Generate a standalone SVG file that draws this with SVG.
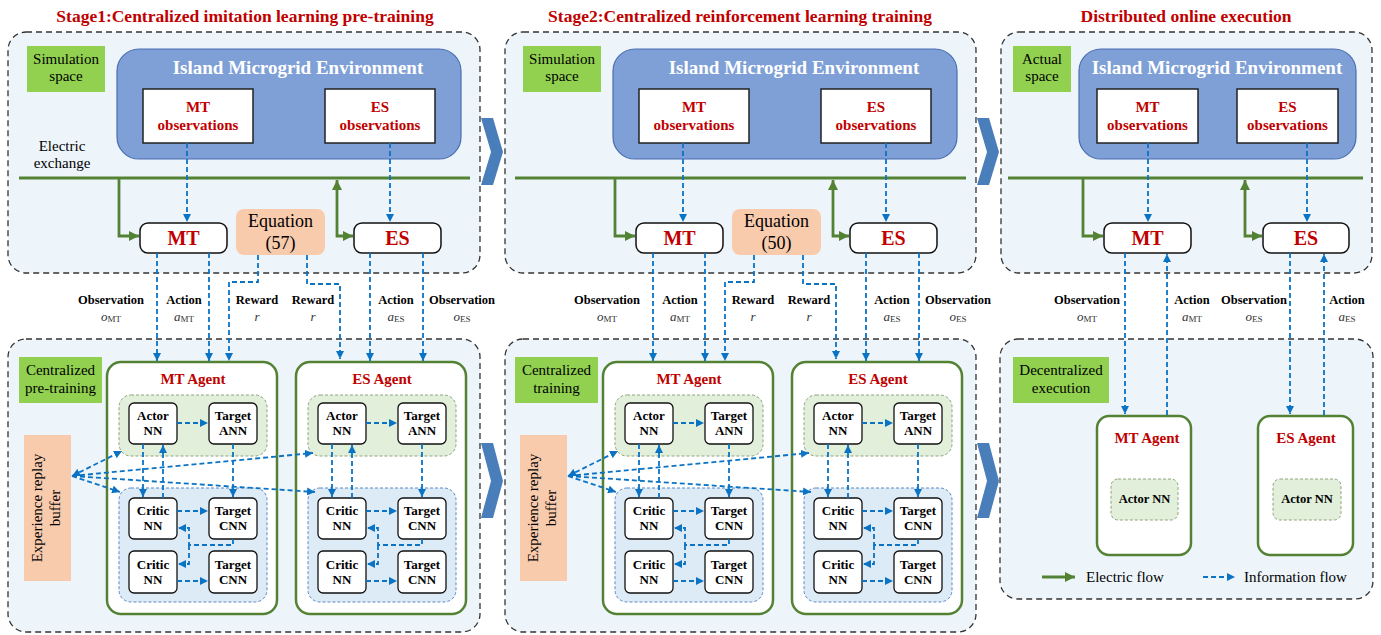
<svg xmlns="http://www.w3.org/2000/svg" width="1381" height="635" viewBox="0 0 1381 635">
  <style>
    text { font-family: "Liberation Serif", "Times New Roman", serif; fill: #000; }
    .title { font-size: 17.5px; font-weight: bold; fill: #C00000; text-anchor: middle; }
    .panel { fill: #EEF5FA; stroke: #333; stroke-width: 1.3; stroke-dasharray: 6 4; }
    .tag { fill: #92D050; }
    .tagt { font-size: 15px; text-anchor: middle; }
    .env { fill: #7F9FD7; stroke: #4A6EB0; stroke-width: 1.2; }
    .envt { font-size: 19px; font-weight: bold; fill: #fff; text-anchor: middle; }
    .obs { fill: #fff; stroke: #222; stroke-width: 1.5; }
    .obst { font-size: 15px; font-weight: bold; fill: #C00000; text-anchor: middle; }
    .dev { fill: #fff; stroke: #111; stroke-width: 1.5; }
    .devt { font-size: 20px; font-weight: bold; fill: #C00000; text-anchor: middle; }
    .peach { fill: #F8CBAD; }
    .eqt { font-size: 18px; text-anchor: middle; }
    .agent { fill: #fff; stroke: #548235; stroke-width: 2.5; }
    .agt { font-size: 15px; font-weight: bold; fill: #C00000; text-anchor: middle; }
    .ag { fill: #E2EFDA; stroke: #8FA57F; stroke-width: 1; stroke-dasharray: 3 2; }
    .cg { fill: #DDEBF7; stroke: #5B8AC6; stroke-width: 1; stroke-dasharray: 3 2; }
    .nn { fill: #fff; stroke: #111; stroke-width: 1.3; }
    .nnt { font-size: 13px; font-weight: bold; text-anchor: middle; }
    .nnt1 { font-size: 12.5px; font-weight: bold; text-anchor: middle; }
    .lab { font-size: 12.5px; font-weight: bold; text-anchor: middle; }
    .sym { font-size: 13px; text-anchor: middle; fill: #333; }
    .sub { font-size: 9px; font-style: normal; }
    .info { fill: none; stroke: #0A73C4; stroke-width: 1.8; stroke-dasharray: 5 3; marker-end: url(#ia); }
    .elec { fill: none; stroke: #548235; stroke-width: 2.8; }
    .bus { stroke: #548235; stroke-width: 3; }
    .chev { fill: #4A7EBB; }
    .leg { font-size: 15px; }
  </style>
  <defs>
    <marker id="ia" viewBox="0 0 10 10" refX="10" refY="5" markerWidth="8" markerHeight="8" markerUnits="userSpaceOnUse" orient="auto-start-reverse">
      <path d="M0,0 L10,5 L0,10 z" fill="#0A73C4"/>
    </marker>
    <marker id="ea" viewBox="0 0 10 10" refX="10" refY="5" markerWidth="10" markerHeight="10" markerUnits="userSpaceOnUse" orient="auto-start-reverse">
      <path d="M0,0 L10,5 L0,10 z" fill="#548235"/>
    </marker>
  </defs>

  <!-- stage titles -->
  <text class="title" x="245" y="22">Stage1:Centralized imitation learning pre-training</text>
  <text class="title" x="740" y="22">Stage2:Centralized reinforcement learning training</text>
  <text class="title" x="1186" y="22">Distributed online execution</text>

  <!-- panels -->
  <g id="panels">
    <rect class="panel" x="8" y="32" width="472" height="241" rx="18"/>
    <rect class="panel" x="8" y="339" width="472" height="293" rx="18"/>
    <rect class="panel" x="505" y="32" width="471" height="241" rx="18"/>
    <rect class="panel" x="505" y="339" width="471" height="293" rx="18"/>
    <rect class="panel" x="1001" y="32" width="371" height="241" rx="18"/>
    <rect class="panel" x="1000" y="339" width="373" height="260" rx="18"/>
  </g>

  <!-- stage transition chevrons -->
  <g id="chevrons">
    <polygon class="chev" points="481,118 493,118 503,152 493,185 481,185 491,152"/>
    <polygon class="chev" points="481,443 493,443 503,481 493,518 481,518 491,481"/>
    <polygon class="chev" points="977,118 989,118 999,152 989,185 977,185 987,152"/>
    <polygon class="chev" points="977,443 989,443 999,481 989,518 977,518 987,481"/>
  </g>

  <!-- ===== Stage 1 ===== -->
  <g id="s1-sim-tag"><rect class="tag" x="27" y="46" width="78" height="46"/>
    <text class="tagt" x="66" y="64">Simulation</text><text class="tagt" x="66" y="81">space</text></g>
  <g id="s1-env"><rect class="env" x="117" y="49" width="344" height="110" rx="22"/>
    <text class="envt" x="298" y="74">Island Microgrid Environment</text></g>
  <g id="s1-mt-obs"><rect class="obs" x="143" y="89" width="110" height="54"/>
    <text class="obst" x="198" y="112">MT</text><text class="obst" x="198" y="130">observations</text></g>
  <g id="s1-es-obs"><rect class="obs" x="325" y="89" width="110" height="54"/>
    <text class="obst" x="380" y="112">ES</text><text class="obst" x="380" y="130">observations</text></g>
  <g id="s1-bus-label"><text class="tagt" x="62" y="151">Electric</text><text class="tagt" x="62" y="168">exchange</text></g>
  <g id="s1-mt"><rect class="dev" x="140" y="223" width="87" height="30" rx="8"/>
    <text class="devt" x="183.5" y="245">MT</text></g>
  <g id="s1-es"><rect class="dev" x="354" y="223" width="87" height="30" rx="8"/>
    <text class="devt" x="397.5" y="245">ES</text></g>
  <g id="s1-eq"><rect class="peach" x="236" y="209" width="89" height="46" rx="8"/>
    <text class="eqt" x="280.5" y="227">Equation</text><text class="eqt" x="280.5" y="249">(57)</text></g>
  <g id="s1-train-tag"><rect class="tag" x="19" y="357" width="83" height="46"/>
    <text class="tagt" x="60.5" y="375">Centralized</text><text class="tagt" x="60.5" y="393">pre-training</text></g>
  <g id="s1-buffer"><rect class="peach" x="24" y="435" width="47" height="146"/>
    <g transform="translate(47.5,508) rotate(-90)"><text class="tagt" x="0" y="-5.5">Experience replay</text><text class="tagt" x="0" y="12.5">buffer</text></g></g>

  <!-- MT agent (stage 1) -->
  <g id="s1-mt-agent" transform="translate(107,362)">
    <rect class="agent" x="0" y="0" width="170" height="252" rx="14"/>
    <text class="agt" x="86" y="22">MT Agent</text>
    <rect class="ag" x="12" y="33" width="148" height="61" rx="12"/>
    <rect class="cg" x="12" y="126" width="148" height="114" rx="12"/>
    <g id="s1-mt-actor"><rect class="nn" x="22" y="41" width="48" height="41" rx="5"/><text class="nnt" x="46" y="58">Actor</text><text class="nnt" x="46" y="73">NN</text></g>
    <g id="s1-mt-tann"><rect class="nn" x="102" y="41" width="48" height="41" rx="5"/><text class="nnt" x="126" y="58">Target</text><text class="nnt" x="126" y="73">ANN</text></g>
    <g id="s1-mt-critic1"><rect class="nn" x="22" y="136" width="48" height="41" rx="5"/><text class="nnt" x="46" y="153">Critic</text><text class="nnt" x="46" y="168">NN</text></g>
    <g id="s1-mt-tcnn1"><rect class="nn" x="102" y="136" width="48" height="41" rx="5"/><text class="nnt" x="126" y="153">Target</text><text class="nnt" x="126" y="168">CNN</text></g>
    <g id="s1-mt-critic2"><rect class="nn" x="22" y="189" width="48" height="42" rx="5"/><text class="nnt" x="46" y="207">Critic</text><text class="nnt" x="46" y="222">NN</text></g>
    <g id="s1-mt-tcnn2"><rect class="nn" x="102" y="189" width="48" height="42" rx="5"/><text class="nnt" x="126" y="207">Target</text><text class="nnt" x="126" y="222">CNN</text></g>
    <g id="s1-mt-links">
      <path class="info" d="M70,61 H101"/>
      <path class="info" d="M36,82 V135"/>
      <path class="info" d="M56,136 V83"/>
      <path class="info" d="M126,82 V135"/>
      <path class="info" d="M70,149 H101"/>
      <path class="info" d="M70,219 H101"/>
      <path class="info" d="M126,177 V183 H82 V166 H71"/>
      <path class="info" d="M82,183 V202 H71"/>
    </g>
  </g>

  <!-- ES agent (stage 1) -->
  <g id="s1-es-agent" transform="translate(296,362)">
    <rect class="agent" x="0" y="0" width="170" height="252" rx="14"/>
    <text class="agt" x="86" y="22">ES Agent</text>
    <rect class="ag" x="12" y="33" width="148" height="61" rx="12"/>
    <rect class="cg" x="12" y="126" width="148" height="114" rx="12"/>
    <g id="s1-es-actor"><rect class="nn" x="22" y="41" width="48" height="41" rx="5"/><text class="nnt" x="46" y="58">Actor</text><text class="nnt" x="46" y="73">NN</text></g>
    <g id="s1-es-tann"><rect class="nn" x="102" y="41" width="48" height="41" rx="5"/><text class="nnt" x="126" y="58">Target</text><text class="nnt" x="126" y="73">ANN</text></g>
    <g id="s1-es-critic1"><rect class="nn" x="22" y="136" width="48" height="41" rx="5"/><text class="nnt" x="46" y="153">Critic</text><text class="nnt" x="46" y="168">NN</text></g>
    <g id="s1-es-tcnn1"><rect class="nn" x="102" y="136" width="48" height="41" rx="5"/><text class="nnt" x="126" y="153">Target</text><text class="nnt" x="126" y="168">CNN</text></g>
    <g id="s1-es-critic2"><rect class="nn" x="22" y="189" width="48" height="42" rx="5"/><text class="nnt" x="46" y="207">Critic</text><text class="nnt" x="46" y="222">NN</text></g>
    <g id="s1-es-tcnn2"><rect class="nn" x="102" y="189" width="48" height="42" rx="5"/><text class="nnt" x="126" y="207">Target</text><text class="nnt" x="126" y="222">CNN</text></g>
    <g id="s1-es-links">
      <path class="info" d="M70,61 H101"/>
      <path class="info" d="M36,82 V135"/>
      <path class="info" d="M56,136 V83"/>
      <path class="info" d="M126,82 V135"/>
      <path class="info" d="M70,149 H101"/>
      <path class="info" d="M70,219 H101"/>
      <path class="info" d="M126,177 V183 H82 V166 H71"/>
      <path class="info" d="M82,183 V202 H71"/>
    </g>
  </g>

  <!-- flow labels between upper and lower panels (stage 1) -->
  <g id="s1-labels">
    <text class="lab" x="111" y="304">Observation</text>
    <text class="sym" x="111" y="321"><tspan font-style="italic">o</tspan><tspan class="sub" dy="1">MT</tspan></text>
    <text class="lab" x="184" y="304">Action</text>
    <text class="sym" x="184" y="321"><tspan font-style="italic">a</tspan><tspan class="sub" dy="1">MT</tspan></text>
    <text class="lab" x="257" y="304">Reward</text>
    <text class="sym" x="257" y="321" font-style="italic">r</text>
    <text class="lab" x="313" y="304">Reward</text>
    <text class="sym" x="313" y="321" font-style="italic">r</text>
    <text class="lab" x="396" y="304">Action</text>
    <text class="sym" x="396" y="321"><tspan font-style="italic">a</tspan><tspan class="sub" dy="1">ES</tspan></text>
    <text class="lab" x="462" y="304">Observation</text>
    <text class="sym" x="462" y="321"><tspan font-style="italic">o</tspan><tspan class="sub" dy="1">ES</tspan></text>
  </g>

  <!-- ===== Stage 2 (same layout, shifted right) ===== -->
  <g id="s2" transform="translate(496,0)">
    <g id="s2-sim-tag"><rect class="tag" x="27" y="46" width="78" height="46"/>
      <text class="tagt" x="66" y="64">Simulation</text><text class="tagt" x="66" y="81">space</text></g>
    <g id="s2-env"><rect class="env" x="117" y="49" width="344" height="110" rx="22"/>
      <text class="envt" x="298" y="74">Island Microgrid Environment</text></g>
    <g id="s2-mt-obs"><rect class="obs" x="143" y="89" width="110" height="54"/>
      <text class="obst" x="198" y="112">MT</text><text class="obst" x="198" y="130">observations</text></g>
    <g id="s2-es-obs"><rect class="obs" x="325" y="89" width="110" height="54"/>
      <text class="obst" x="380" y="112">ES</text><text class="obst" x="380" y="130">observations</text></g>
    <g id="s2-mt"><rect class="dev" x="140" y="223" width="87" height="30" rx="8"/>
      <text class="devt" x="183.5" y="245">MT</text></g>
    <g id="s2-es"><rect class="dev" x="354" y="223" width="87" height="30" rx="8"/>
      <text class="devt" x="397.5" y="245">ES</text></g>
    <g id="s2-eq"><rect class="peach" x="236" y="209" width="89" height="46" rx="8"/>
      <text class="eqt" x="280.5" y="227">Equation</text><text class="eqt" x="280.5" y="249">(50)</text></g>
    <g id="s2-train-tag"><rect class="tag" x="19" y="357" width="83" height="46"/>
      <text class="tagt" x="60.5" y="375">Centralized</text><text class="tagt" x="60.5" y="393">training</text></g>
    <g id="s2-buffer"><rect class="peach" x="24" y="435" width="47" height="146"/>
      <g transform="translate(47.5,508) rotate(-90)"><text class="tagt" x="0" y="-5.5">Experience replay</text><text class="tagt" x="0" y="12.5">buffer</text></g></g>

    <g id="s2-mt-agent" transform="translate(107,362)">
      <rect class="agent" x="0" y="0" width="170" height="252" rx="14"/>
      <text class="agt" x="86" y="22">MT Agent</text>
      <rect class="ag" x="12" y="33" width="148" height="61" rx="12"/>
      <rect class="cg" x="12" y="126" width="148" height="114" rx="12"/>
      <g id="s2-mt-actor"><rect class="nn" x="22" y="41" width="48" height="41" rx="5"/><text class="nnt" x="46" y="58">Actor</text><text class="nnt" x="46" y="73">NN</text></g>
      <g id="s2-mt-tann"><rect class="nn" x="102" y="41" width="48" height="41" rx="5"/><text class="nnt" x="126" y="58">Target</text><text class="nnt" x="126" y="73">ANN</text></g>
      <g id="s2-mt-critic1"><rect class="nn" x="22" y="136" width="48" height="41" rx="5"/><text class="nnt" x="46" y="153">Critic</text><text class="nnt" x="46" y="168">NN</text></g>
      <g id="s2-mt-tcnn1"><rect class="nn" x="102" y="136" width="48" height="41" rx="5"/><text class="nnt" x="126" y="153">Target</text><text class="nnt" x="126" y="168">CNN</text></g>
      <g id="s2-mt-critic2"><rect class="nn" x="22" y="189" width="48" height="42" rx="5"/><text class="nnt" x="46" y="207">Critic</text><text class="nnt" x="46" y="222">NN</text></g>
      <g id="s2-mt-tcnn2"><rect class="nn" x="102" y="189" width="48" height="42" rx="5"/><text class="nnt" x="126" y="207">Target</text><text class="nnt" x="126" y="222">CNN</text></g>
      <g id="s2-mt-links">
        <path class="info" d="M70,61 H101"/>
        <path class="info" d="M36,82 V135"/>
        <path class="info" d="M56,136 V83"/>
        <path class="info" d="M126,82 V135"/>
        <path class="info" d="M70,149 H101"/>
        <path class="info" d="M70,219 H101"/>
        <path class="info" d="M126,177 V183 H82 V166 H71"/>
        <path class="info" d="M82,183 V202 H71"/>
      </g>
    </g>

    <g id="s2-es-agent" transform="translate(296,362)">
      <rect class="agent" x="0" y="0" width="170" height="252" rx="14"/>
      <text class="agt" x="86" y="22">ES Agent</text>
      <rect class="ag" x="12" y="33" width="148" height="61" rx="12"/>
      <rect class="cg" x="12" y="126" width="148" height="114" rx="12"/>
      <g id="s2-es-actor"><rect class="nn" x="22" y="41" width="48" height="41" rx="5"/><text class="nnt" x="46" y="58">Actor</text><text class="nnt" x="46" y="73">NN</text></g>
      <g id="s2-es-tann"><rect class="nn" x="102" y="41" width="48" height="41" rx="5"/><text class="nnt" x="126" y="58">Target</text><text class="nnt" x="126" y="73">ANN</text></g>
      <g id="s2-es-critic1"><rect class="nn" x="22" y="136" width="48" height="41" rx="5"/><text class="nnt" x="46" y="153">Critic</text><text class="nnt" x="46" y="168">NN</text></g>
      <g id="s2-es-tcnn1"><rect class="nn" x="102" y="136" width="48" height="41" rx="5"/><text class="nnt" x="126" y="153">Target</text><text class="nnt" x="126" y="168">CNN</text></g>
      <g id="s2-es-critic2"><rect class="nn" x="22" y="189" width="48" height="42" rx="5"/><text class="nnt" x="46" y="207">Critic</text><text class="nnt" x="46" y="222">NN</text></g>
      <g id="s2-es-tcnn2"><rect class="nn" x="102" y="189" width="48" height="42" rx="5"/><text class="nnt" x="126" y="207">Target</text><text class="nnt" x="126" y="222">CNN</text></g>
      <g id="s2-es-links">
        <path class="info" d="M70,61 H101"/>
        <path class="info" d="M36,82 V135"/>
        <path class="info" d="M56,136 V83"/>
        <path class="info" d="M126,82 V135"/>
        <path class="info" d="M70,149 H101"/>
        <path class="info" d="M70,219 H101"/>
        <path class="info" d="M126,177 V183 H82 V166 H71"/>
        <path class="info" d="M82,183 V202 H71"/>
      </g>
    </g>

    <g id="s2-labels">
      <text class="lab" x="111" y="304">Observation</text>
      <text class="sym" x="111" y="321"><tspan font-style="italic">o</tspan><tspan class="sub" dy="1">MT</tspan></text>
      <text class="lab" x="184" y="304">Action</text>
      <text class="sym" x="184" y="321"><tspan font-style="italic">a</tspan><tspan class="sub" dy="1">MT</tspan></text>
      <text class="lab" x="257" y="304">Reward</text>
      <text class="sym" x="257" y="321" font-style="italic">r</text>
      <text class="lab" x="313" y="304">Reward</text>
      <text class="sym" x="313" y="321" font-style="italic">r</text>
      <text class="lab" x="396" y="304">Action</text>
      <text class="sym" x="396" y="321"><tspan font-style="italic">a</tspan><tspan class="sub" dy="1">ES</tspan></text>
      <text class="lab" x="462" y="304">Observation</text>
      <text class="sym" x="462" y="321"><tspan font-style="italic">o</tspan><tspan class="sub" dy="1">ES</tspan></text>
    </g>
  </g>

  <!-- ===== Stage 3: distributed execution ===== -->
  <g id="s3-actual-tag"><rect class="tag" x="1013" y="46" width="58" height="46"/>
    <text class="tagt" x="1042" y="64">Actual</text><text class="tagt" x="1042" y="81">space</text></g>
  <g id="s3-env"><rect class="env" x="1079" y="49" width="277" height="110" rx="22"/>
    <text class="envt" x="1217" y="74">Island Microgrid Environment</text></g>
  <g id="s3-mt-obs"><rect class="obs" x="1097" y="89" width="101" height="54"/>
    <text class="obst" x="1147.5" y="112">MT</text><text class="obst" x="1147.5" y="130">observations</text></g>
  <g id="s3-es-obs"><rect class="obs" x="1237" y="89" width="101" height="54"/>
    <text class="obst" x="1287.5" y="112">ES</text><text class="obst" x="1287.5" y="130">observations</text></g>
  <g id="s3-mt"><rect class="dev" x="1104" y="223" width="87" height="30" rx="8"/>
    <text class="devt" x="1147.5" y="245">MT</text></g>
  <g id="s3-es"><rect class="dev" x="1263" y="223" width="86" height="30" rx="8"/>
    <text class="devt" x="1306" y="245">ES</text></g>
  <g id="s3-exec-tag"><rect class="tag" x="1013" y="357" width="96" height="46"/>
    <text class="tagt" x="1061" y="375">Decentralized</text><text class="tagt" x="1061" y="393">execution</text></g>
  <g id="s3-mt-agent"><rect class="agent" x="1097" y="416" width="94" height="139" rx="12"/>
    <text class="agt" x="1147" y="443">MT Agent</text>
    <rect class="ag" x="1111" y="479" width="67" height="41" rx="7"/>
    <text class="nnt1" x="1144.5" y="503">Actor NN</text></g>
  <g id="s3-es-agent"><rect class="agent" x="1258" y="416" width="95" height="139" rx="12"/>
    <text class="agt" x="1306" y="443">ES Agent</text>
    <rect class="ag" x="1273" y="479" width="68" height="41" rx="7"/>
    <text class="nnt1" x="1307" y="503">Actor NN</text></g>
  <g id="s3-labels">
    <text class="lab" x="1087" y="304">Observation</text>
    <text class="sym" x="1087" y="321"><tspan font-style="italic">o</tspan><tspan class="sub" dy="1">MT</tspan></text>
    <text class="lab" x="1192" y="304">Action</text>
    <text class="sym" x="1192" y="321"><tspan font-style="italic">a</tspan><tspan class="sub" dy="1">MT</tspan></text>
    <text class="lab" x="1254" y="304">Observation</text>
    <text class="sym" x="1254" y="321"><tspan font-style="italic">o</tspan><tspan class="sub" dy="1">ES</tspan></text>
    <text class="lab" x="1347" y="304">Action</text>
    <text class="sym" x="1347" y="321"><tspan font-style="italic">a</tspan><tspan class="sub" dy="1">ES</tspan></text>
  </g>
  <g id="legend">
    <path class="elec" d="M1042,577 H1075" marker-end="url(#ea)"/>
    <text class="leg" x="1086" y="582">Electric flow</text>
    <path class="info" d="M1203,577 H1235"/>
    <text class="leg" x="1244" y="582">Information flow</text>
  </g>

  <!-- ===== connectors ===== -->
  <g id="connectors">
    <!-- stage 1 -->
    <line class="bus" x1="19" y1="178" x2="470" y2="178"/>
    <path class="elec" d="M119,178 V236 H139" marker-end="url(#ea)"/>
    <path class="elec" d="M337,180 V236 H353" marker-start="url(#ea)" marker-end="url(#ea)"/>
    <path class="info" d="M187,143 V222"/>
    <path class="info" d="M390,143 V222"/>
    <path class="info" d="M157,253 V361"/>
    <path class="info" d="M209,253 V361"/>
    <path class="info" d="M258,255 V282 H229 V361"/>
    <path class="info" d="M307,255 V284 H340 V359"/>
    <path class="info" d="M370,253 V361"/>
    <path class="info" d="M423,253 V361"/>
    <path class="info" d="M72,476 L122,451" marker-start="url(#ia)"/>
    <path class="info" d="M72,476 L120,492"/>
    <path class="info" d="M72,476 L313,453"/>
    <path class="info" d="M72,476 L315,492"/>
    <!-- stage 2 -->
    <g transform="translate(496,0)">
      <line class="bus" x1="19" y1="178" x2="470" y2="178"/>
      <path class="elec" d="M119,178 V236 H139" marker-end="url(#ea)"/>
      <path class="elec" d="M337,180 V236 H353" marker-start="url(#ea)" marker-end="url(#ea)"/>
      <path class="info" d="M187,143 V222"/>
      <path class="info" d="M390,143 V222"/>
      <path class="info" d="M157,253 V361"/>
      <path class="info" d="M209,253 V361"/>
      <path class="info" d="M258,255 V282 H229 V361"/>
      <path class="info" d="M307,255 V284 H340 V359"/>
      <path class="info" d="M370,253 V361"/>
      <path class="info" d="M423,253 V361"/>
      <path class="info" d="M72,476 L122,451" marker-start="url(#ia)"/>
      <path class="info" d="M72,476 L120,492"/>
      <path class="info" d="M72,476 L313,453"/>
      <path class="info" d="M72,476 L315,492"/>
    </g>
    <!-- stage 3 -->
    <line class="bus" x1="1008" y1="178" x2="1363" y2="178"/>
    <path class="elec" d="M1083,178 V236 H1103" marker-end="url(#ea)"/>
    <path class="elec" d="M1245,180 V236 H1262" marker-start="url(#ea)" marker-end="url(#ea)"/>
    <path class="info" d="M1148,143 V222"/>
    <path class="info" d="M1307,143 V222"/>
    <path class="info" d="M1125,253 V414"/>
    <path class="info" d="M1167,415 V254"/>
    <path class="info" d="M1290,253 V414"/>
    <path class="info" d="M1324,415 V254"/>
  </g>
</svg>
